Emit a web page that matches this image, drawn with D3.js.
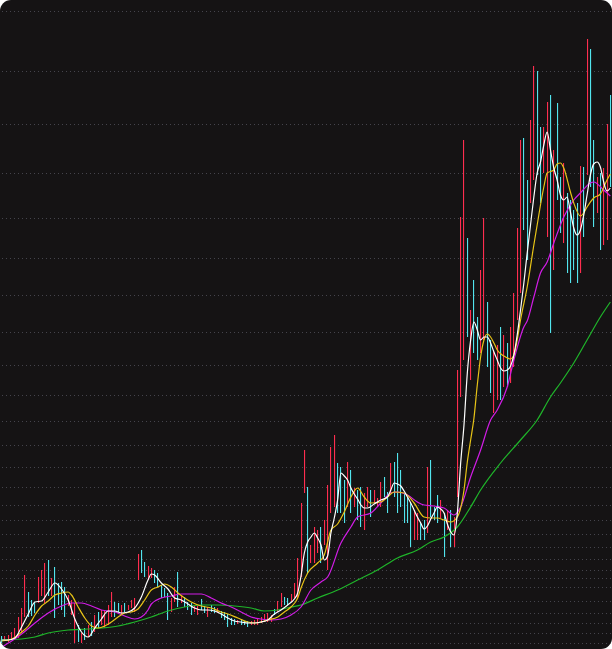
<!DOCTYPE html>
<html><head><meta charset="utf-8">
<script src="https://cdn.jsdelivr.net/npm/d3@7"></script>
<style>html,body{margin:0;padding:0;background:#fff;}svg{display:block;}</style>
</head><body>
<script>
// ---- data (price units) ----
const highs = [11.4,11.4,11.5,11.8,12.2,13.3,14.2,17.5,15.8,15.0,
14.8,17.3,18.0,18.7,19.0,17.2,18.3,16.7,16.8,16.3,
15.5,15.0,14.7,12.5,11.7,12.2,12.5,12.8,13.5,13.8,
14.0,14.0,14.5,15.8,14.8,14.7,14.5,14.7,14.5,15.0,
15.2,19.6,20.0,18.8,18.4,18.2,18.0,17.7,16.5,16.2,
15.7,15.2,16.3,17.8,15.5,15.3,14.8,14.7,14.5,14.4,
15.1,14.4,14.3,14.5,14.3,14.2,13.9,13.8,13.6,13.2,
13.1,13.0,13.1,12.9,12.9,12.9,13.0,13.1,13.3,13.6,
13.7,13.5,14.1,14.9,15.7,15.3,15.2,15.6,16.7,19.2,
24.7,30.0,26.3,20.5,22.3,22.0,22.3,23.0,26.5,30.3,
31.5,28.7,28.3,27.0,28.8,28.0,26.2,26.0,26.3,25.7,
26.3,26.0,26.0,25.2,26.8,27.3,25.8,28.7,28.8,29.7,
28.0,25.7,25.3,24.7,24.0,23.7,22.7,23.0,28.3,29.0,
24.3,25.5,25.0,23.7,24.0,24.0,23.3,38.0,53.3,61.0,
51.2,44.0,47.0,43.3,48.0,53.2,44.8,41.0,40.0,40.5,
42.3,41.5,40.7,42.3,45.7,52.2,61.0,61.2,57.0,63.0,
68.4,67.9,62.3,62.3,64.8,65.5,60.0,64.7,57.3,58.7,
55.7,55.0,54.0,54.7,58.4,58.3,71.1,70.1,61.0,57.3,
57.7,58.2,62.6,65.5];
const lows = [10.7,10.9,10.8,11.0,11.1,11.2,11.7,13.3,13.3,13.4,
13.7,14.7,15.4,14.7,15.4,15.4,13.2,14.5,14.0,13.3,
14.4,13.5,10.7,10.8,10.7,11.0,11.3,11.4,11.8,12.2,
12.5,12.2,12.5,13.3,13.3,13.8,13.6,13.8,14.0,14.2,
13.8,17.0,17.7,17.3,17.0,17.2,16.7,16.3,15.2,15.3,
13.0,13.8,14.8,14.3,14.7,14.3,14.0,13.5,13.8,13.5,
14.0,13.7,13.3,13.8,13.7,13.7,13.2,13.0,12.3,12.5,
12.5,12.6,12.5,12.5,12.3,12.5,12.5,12.5,12.7,12.8,
12.8,12.8,13.5,13.8,14.3,14.5,14.5,14.8,15.2,15.2,
17.3,25.7,17.7,18.7,18.7,19.7,18.7,20.5,18.0,23.7,
24.3,23.7,23.7,22.7,24.3,23.7,24.3,23.0,22.3,22.0,
24.3,23.3,24.7,24.3,24.3,25.3,23.7,25.7,25.3,23.7,
24.3,22.7,22.7,20.3,21.0,21.0,21.0,21.0,21.7,23.3,
23.0,22.7,23.2,19.3,22.0,20.3,20.3,25.3,35.3,39.0,
41.3,37.0,39.7,39.0,39.7,41.0,38.3,35.7,33.7,35.0,
35.0,36.3,36.3,36.7,38.3,43.0,45.7,52.0,49.0,54.7,
57.0,57.5,54.7,57.7,51.3,41.7,48.0,55.0,51.7,50.7,
47.7,46.7,48.0,46.7,47.7,51.3,57.5,56.3,52.3,53.7,
50.0,50.5,51.0,56.3];
// r = up (red), c = down (cyan)
const directions = ("crrrrrrrcc"+"crrrcrcccc"+"rrrcrcrcrc"+"rrrrccrcrr"+"rrccrrcccc"+
  "crrcrcccrr"+"ccrccrcccc"+"crcccrrrrr"+"rrcrrccrrr"+"rrcrrrcrrr"+
  "rcccrcrccr"+"rcrrrccrcc"+"ccccrrccrc"+"ccrcrcrrrr"+"crccrrccrr"+
  "crcrrrrccr"+"rccrrcrccr"+"ccccrcrccr"+"crrc").split("");

// moving averages as [candle index, value]
const maWhite = [[0,11.0],[2,11.0],[4,11.2],[6,12.3],[8,13.6],[10,14.8],[12,14.9],[14,15.8],[16,16.7],[18,16.1],
[20,15.0],[22,13.1],[24,11.8],[26,11.3],[28,12.2],[30,13.1],[32,13.9],[34,13.9],[36,13.7],[38,13.8],
[40,14.2],[42,15.3],[44,17.0],[45,17.6],[46,17.5],[48,16.7],[50,16.1],[52,15.2],[54,15.0],[56,14.6],
[58,14.2],[60,14.0],[62,14.0],[64,13.9],[66,13.6],[68,13.2],[70,12.9],[72,12.8],[74,12.7],[76,12.7],
[78,12.8],[80,13.0],[82,13.6],[84,14.0],[86,14.5],[88,15.1],[89,15.7],[90,17.4],[91,19.7],[92,20.8],
[93,21.3],[94,21.7],[95,21.2],[96,20.5],[97,19.0],[98,19.4],[99,21.7],[100,23.2],[101,25.0],[102,27.7],
[103,27.4],[104,27.0],[105,26.2],[106,25.6],[107,25.1],[108,24.5],[109,24.2],[110,24.2],[112,24.6],[114,25.0],
[116,25.3],[117,26.0],[118,26.7],[119,26.6],[120,26.4],[121,25.9],[122,25.3],[123,24.7],[124,24.0],[125,23.3],
[126,22.7],[127,22.1],[128,22.4],[129,23.1],[130,23.7],[131,24.3],[132,24.1],[133,23.7],[134,22.6],[135,21.8],
[136,21.5],[137,23.7],[138,28.7],[139,32.5],[140,37.7],[141,41.0],[142,42.8],[143,42.0],[144,41.0],[145,41.3],
[146,41.3],[147,40.7],[148,39.8],[149,39.0],[150,38.2],[151,37.9],[152,38.0],[153,38.4],[154,39.5],[155,41.5],
[156,44.0],[157,46.7],[158,49.7],[159,52.5],[160,55.3],[161,57.7],[162,58.8],[163,60.5],[164,61.8],[165,60.0],
[166,58.2],[167,57.0],[168,55.5],[169,55.0],[170,55.3],[171,53.8],[172,52.2],[173,51.5],[174,52.0],[175,53.5],
[176,55.5],[177,57.5],[178,58.6],[179,58.8],[180,58.3],[181,56.8],[182,55.9],[183,56.2]];
const maYellow = [[0,10.9],[3,11.1],[6,11.8],[8,12.4],[10,13.5],[12,14.4],[14,14.9],[16,15.5],[18,15.7],[20,15.8],
[21,15.5],[23,14.3],[25,13.2],[27,12.4],[29,12.2],[31,12.4],[33,12.8],[35,13.3],[37,13.7],[39,13.8],
[41,14.1],[43,15.0],[45,16.0],[47,16.3],[49,16.6],[51,16.3],[53,15.7],[55,15.2],[57,14.8],[60,14.4],
[63,14.2],[66,13.8],[68,13.6],[71,13.2],[74,12.8],[76,12.7],[78,12.8],[80,13.0],[83,13.3],[85,13.8],
[87,14.3],[89,15.2],[90,16.2],[92,17.7],[95,18.7],[97,19.5],[99,22.0],[101,22.6],[103,23.8],[105,25.3],
[107,26.2],[109,25.3],[111,24.7],[114,24.8],[116,25.3],[118,25.8],[121,25.7],[124,24.7],[127,23.3],[129,23.2],
[131,23.2],[133,23.0],[135,22.8],[137,23.3],[139,26.0],[140,28.8],[141,31.0],[142,33.2],[143,36.5],[144,39.3],
[145,41.0],[146,41.6],[147,41.3],[148,40.7],[149,40.0],[151,39.4],[153,39.1],[154,39.5],[155,41.0],[156,43.0],
[158,46.3],[160,50.5],[161,52.5],[162,54.5],[163,56.3],[164,57.7],[166,58.0],[167,58.6],[168,58.7],[169,58.2],
[171,55.8],[172,54.7],[174,53.4],[175,53.7],[176,54.3],[178,55.2],[180,55.6],[182,57.0],[183,57.6]];
const maMagenta = [[0,10.3],[3,10.9],[6,11.6],[10,12.7],[14,13.7],[18,14.4],[21,14.7],[24,14.7],[27,14.4],[30,14.0],
[34,13.8],[37,13.4],[40,13.1],[42,13.3],[44,14.0],[45,14.6],[48,15.2],[51,15.4],[54,15.6],[60,15.6],
[63,15.2],[66,14.7],[69,14.3],[72,13.8],[75,13.3],[78,13.1],[81,13.0],[84,13.1],[87,13.5],[90,14.3],
[93,16.0],[96,16.8],[98,17.3],[102,20.7],[105,22.3],[107,23.3],[111,23.7],[114,24.7],[117,25.7],[119,25.8],
[122,25.5],[125,24.8],[127,24.5],[130,24.4],[133,24.2],[136,23.5],[138,24.3],[141,27.3],[144,30.0],[147,33.0],
[149,34.0],[152,36.3],[154,39.0],[157,42.3],[158,42.9],[160,45.3],[162,47.7],[164,48.8],[166,50.7],[169,53.3],
[172,55.0],[174,55.7],[177,56.7],[178,56.8],[181,56.0],[183,55.4]];
const maGreen = [[0,11.0],[6,11.1],[10,11.3],[14,11.7],[20,12.0],[26,12.1],[30,12.2],[35,12.4],[40,12.8],[45,13.3],
[50,13.9],[55,14.3],[60,14.5],[65,14.5],[70,14.4],[75,14.2],[79,13.9],[83,14.0],[87,14.3],[90,14.5],
[95,15.2],[101,16.0],[107,17.0],[113,18.0],[119,19.2],[125,20.0],[129,20.8],[133,21.3],[137,22.3],[141,24.3],
[144,26.0],[150,28.7],[156,31.0],[161,33.0],[165,35.3],[168,36.7],[172,38.7],[176,41.0],[180,43.3],[183,44.8]];

// horizontal grid levels
const gridLevels = [73.9,67.9,62.6,57.7,53.2,49.2,45.5,41.8,38.5,35.5,32.9,30.5,28.3,26.3,24.5,23.0,
  21.6,20.3,19.1,18.0,17.2,16.3,14.9,13.7,12.7,11.7,10.7];

// ---- drawing ----
const W = 612, H = 649;
const svg = d3.select("body").append("svg").attr("width", W).attr("height", H);
const defs = svg.append("defs");
defs.append("clipPath").attr("id","clip").append("rect")
  .attr("width", W).attr("height", H).attr("rx", 11).attr("ry", 11);
const g = svg.append("g").attr("clip-path","url(#clip)");
g.append("rect").attr("width", W).attr("height", H).attr("fill", "#151314");

const N = highs.length;
const x = d3.scaleBand().domain(d3.range(N)).range([0, W]).padding(0);
const cx = i => x(i) + x.bandwidth() / 2;
const y = d3.scaleLinear().domain([0, 75]).range([750, 0]);

g.append("g").selectAll("line").data(gridLevels).join("line")
  .attr("x1", 2).attr("x2", W)
  .attr("y1", d => Math.round(y(d)) + 0.5).attr("y2", d => Math.round(y(d)) + 0.5)
  .attr("stroke", "#45444c").attr("stroke-width", 1).attr("stroke-dasharray", "1,3");

const colors = {r: "#ff2d4f", c: "#52e4ee"};
g.append("g").selectAll("rect").data(d3.range(N)).join("rect")
  .attr("x", i => Math.floor(cx(i)))
  .attr("width", 1.1)
  .attr("y", i => y(highs[i]))
  .attr("height", i => Math.max(1, y(lows[i]) - y(highs[i])))
  .attr("fill", i => colors[directions[i]]);

const line = d3.line().x(d => cx(d[0])).y(d => y(d[1])).curve(d3.curveMonotoneX);
const mas = [
  [maGreen, "#1fb52a"],
  [maMagenta, "#d21ce6"],
  [maYellow, "#e8c417"],
  [maWhite, "#ffffff"]
];
mas.forEach(([data, col]) => {
  g.append("path").datum(data).attr("d", line)
    .attr("fill", "none").attr("stroke", col).attr("stroke-width", 1.2);
});
</script>
</body></html>
